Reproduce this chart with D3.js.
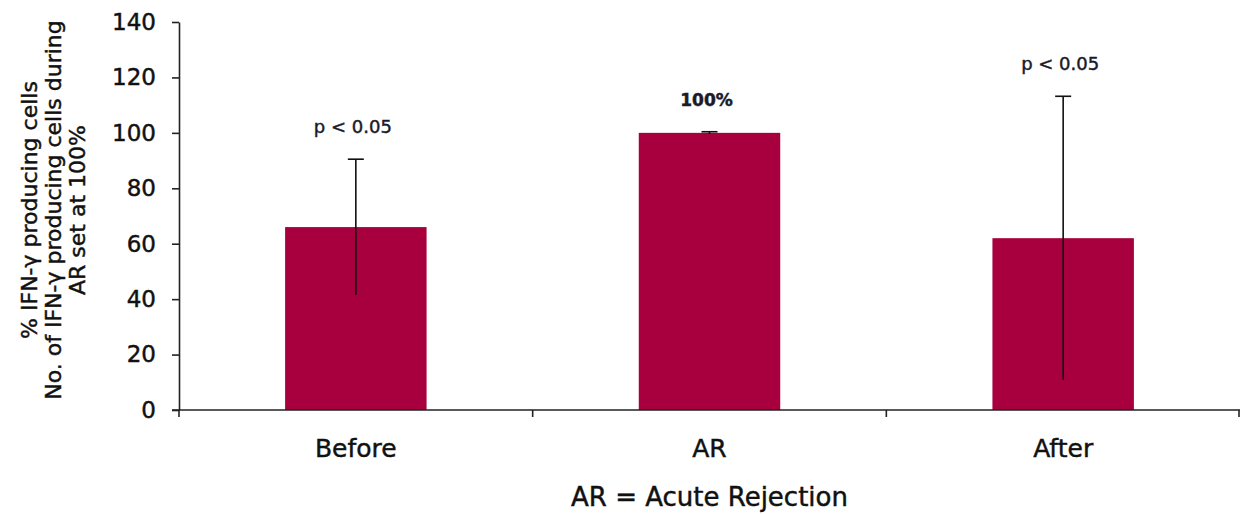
<!DOCTYPE html>
<html>
<head>
<meta charset="utf-8">
<script src="https://cdn.jsdelivr.net/npm/d3@7"></script>
<style>
  html, body { margin: 0; padding: 0; background: #fff; }
  svg { display: block; font-family: "DejaVu Sans", sans-serif; }
  svg text { stroke: currentColor; stroke-width: 0.45px; paint-order: stroke; }
</style>
</head>
<body>
<svg id="chart" width="1240" height="514"></svg>
<script>
// Data: percentage of IFN-γ producing cells relative to acute rejection (AR = 100%)
const categories = ["Before", "AR", "After"];
const values = [66, 100, 62];
const errors = [24.5, 0.4, 51.2];
const annotations = ["p < 0.05", "100%", "p < 0.05"];
const yTicks = [0, 20, 40, 60, 80, 100, 120, 140];
const yTitleLines = [
  "% IFN-γ producing cells",
  "No. of IFN-γ producing cells during",
  "AR set at 100%"
];
const xTitle = "AR = Acute Rejection";

const svg = d3.select("#chart");
const plotLeft = 179, plotRight = 1240, plotTop = 22, plotBottom = 410;

const x = d3.scaleBand()
  .domain(categories)
  .range([plotLeft, plotRight])
  .paddingInner(0.6)
  .paddingOuter(0.3);

const y = d3.scaleLinear().domain([0, 140]).range([plotBottom, plotTop]);

const barColor = "#A8003E";
const ink = "#111";

// Bars
svg.append("g")
  .selectAll("rect")
  .data(categories)
  .join("rect")
  .attr("x", d => x(d))
  .attr("width", x.bandwidth())
  .attr("y", (d, i) => y(values[i]))
  .attr("height", (d, i) => y(0) - y(values[i]))
  .attr("fill", barColor);

// Error bars (cap on the upper end)
const eb = svg.append("g").attr("stroke", ink).attr("stroke-width", 1.6);
categories.forEach((c, i) => {
  const cx = x(c) + x.bandwidth() / 2;
  eb.append("line")
    .attr("x1", cx).attr("x2", cx)
    .attr("y1", y(values[i] + errors[i]))
    .attr("y2", y(values[i] - errors[i]));
  eb.append("line")
    .attr("x1", cx - 8).attr("x2", cx + 8)
    .attr("y1", y(values[i] + errors[i]))
    .attr("y2", y(values[i] + errors[i]));
});

// Annotations above bars
svg.append("g")
  .selectAll("text")
  .data(categories)
  .join("text")
  .attr("x", d => x(d) + x.bandwidth() / 2 - 3)
  .attr("y", (d, i) => y(values[i] + errors[i]) - 26)
  .attr("text-anchor", "middle")
  .attr("font-size", (d, i) => i === 1 ? 17 : 18)
  .attr("font-weight", (d, i) => i === 1 ? "bold" : "normal")
  .style("color", "#1a1a2a")
  .attr("fill", "#1a1a2a")
  .text((d, i) => annotations[i]);

// Y axis
const yAxis = svg.append("g")
  .attr("transform", `translate(${plotLeft},0)`)
  .call(d3.axisLeft(y).tickValues(yTicks).tickSize(7).tickPadding(16).tickSizeOuter(0));
yAxis.select(".domain").attr("stroke", "#222").attr("stroke-width", 1.6);
yAxis.selectAll(".tick line").attr("stroke", "#222").attr("stroke-width", 1.6);
yAxis.selectAll(".tick text").attr("font-size", 23).attr("fill", ink).style("color", ink)
  .attr("font-family", "DejaVu Sans, sans-serif");

// X axis: category labels
const xAxis = svg.append("g")
  .attr("transform", `translate(0,${plotBottom})`)
  .call(d3.axisBottom(x).tickSize(0).tickPadding(29).tickSizeOuter(0));
xAxis.select(".domain").remove();
xAxis.selectAll(".tick text").attr("font-size", 25).attr("fill", ink).style("color", ink)
  .attr("font-family", "DejaVu Sans, sans-serif");

// X axis baseline and boundary ticks between categories
svg.append("line")
  .attr("x1", plotLeft - 7).attr("x2", plotRight)
  .attr("y1", plotBottom).attr("y2", plotBottom)
  .attr("stroke", "#222").attr("stroke-width", 1.6);
const gap = (x.step() - x.bandwidth()) / 2;
const bounds = categories.map(c => x(c) - gap)
  .concat([x(categories[categories.length - 1]) + x.bandwidth() + gap]);
svg.append("g")
  .selectAll("line")
  .data(bounds)
  .join("line")
  .attr("x1", d => Math.min(d, plotRight - 1)).attr("x2", d => Math.min(d, plotRight - 1))
  .attr("y1", plotBottom).attr("y2", plotBottom + 7)
  .attr("stroke", "#222").attr("stroke-width", 1.6);

// X title
svg.append("text")
  .attr("x", (plotLeft + plotRight) / 2)
  .attr("y", 506)
  .attr("text-anchor", "middle")
  .attr("font-size", 26)
  .style("color", ink)
  .attr("fill", ink)
  .text(xTitle);

// Y title (three lines, rotated)
const yt = svg.append("text")
  .attr("transform", "translate(0,210) rotate(-90)")
  .attr("text-anchor", "middle")
  .attr("font-size", 22)
  .style("color", ink)
  .attr("fill", ink);
yTitleLines.forEach((line, i) => {
  yt.append("tspan")
    .attr("x", 0)
    .attr("y", 37 + i * 24)
    .text(line);
});
</script>
</body>
</html>
